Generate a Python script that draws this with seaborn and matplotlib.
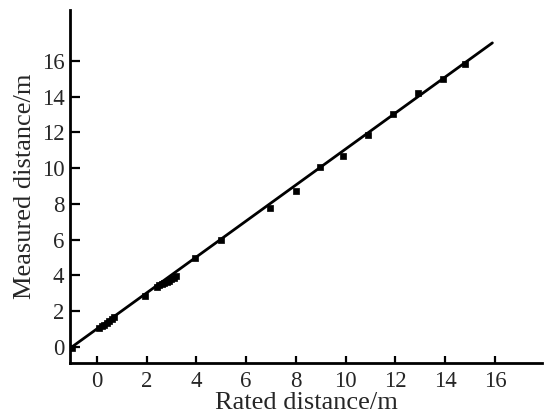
import matplotlib
matplotlib.use("Agg")
from matplotlib import pyplot as plt
import pandas as pd
import seaborn as sns

# points (rated vs measured distance, metres)
rated = [-1.0, 0.1, 0.2, 0.3, 0.4, 0.5, 0.6, 0.7, 1.95, 2.4, 2.5, 2.6, 2.7, 2.8,
         2.9, 3.0, 3.1, 3.2, 3.95, 5.0, 6.95, 8.0, 8.95, 9.9, 10.9, 11.9, 12.9,
         13.9, 14.8]
measured = [-0.05, 1.05, 1.15, 1.25, 1.35, 1.45, 1.55, 1.65, 2.85, 3.35, 3.45,
            3.5, 3.6, 3.65, 3.7, 3.8, 3.85, 3.95, 4.95, 5.95, 7.75, 8.7, 10.05,
            10.7, 11.85, 13.0, 14.2, 15.0, 15.8]

# fitted line end points
fit_x = [-1.0, 15.9]
fit_y = [0.0, 17.0]

x_ticks = [0, 2, 4, 6, 8, 10, 12, 14, 16]
y_ticks = [0, 2, 4, 6, 8, 10, 12, 14, 16]

df = pd.DataFrame({"rated": rated, "measured": measured})
df_fit = pd.DataFrame({"rated": fit_x, "measured": fit_y})

sns.set_style("ticks")
plt.rcParams["font.family"] = ["Liberation Serif", "DejaVu Serif"]

fig = plt.figure(figsize=(5.49, 4.17), dpi=100)
ax = fig.add_axes([0.1275, 0.1295, 0.86, 0.847])

sns.lineplot(data=df_fit, x="rated", y="measured", color="black", linewidth=2, ax=ax)
sns.scatterplot(data=df, x="rated", y="measured", marker="s", s=22, color="black",
                edgecolor="black", linewidth=0.5, ax=ax, zorder=3)

ax.set_xlim(-1.08, 17.9)
ax.set_ylim(-0.9, 18.85)
ax.set_xticks(x_ticks)
ax.set_yticks(y_ticks)
ax.tick_params(axis="both", direction="in", labelsize=16.5, width=1.6, color="black")
ax.tick_params(axis="x", length=5, pad=6)
ax.tick_params(axis="y", length=7, pad=4)

for side in ["top", "right"]:
    ax.spines[side].set_visible(False)
for side in ["left", "bottom"]:
    ax.spines[side].set_linewidth(2)
    ax.spines[side].set_color("black")

ax.set_xlabel("Rated distance/m", fontsize=19, labelpad=0)
ax.set_ylabel("Measured distance/m", fontsize=19, labelpad=4)

fig.savefig("out.png", dpi=100)
